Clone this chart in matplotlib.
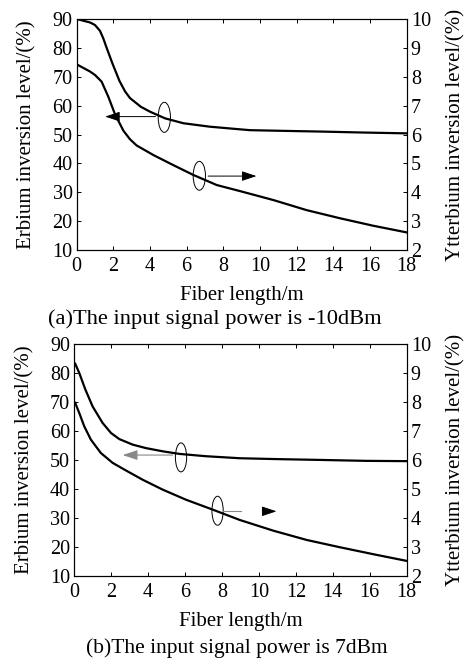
import matplotlib
matplotlib.use('Agg')
import matplotlib.pyplot as plt
import matplotlib.patches as patches

plt.rcParams['font.family'] = ['Liberation Serif', 'DejaVu Serif']

# (a) input signal power -10 dBm
len_a = [0, 0.73, 1.0, 1.27, 1.45, 1.6, 1.95, 2.33, 2.64, 2.91, 3.5, 4.0, 4.82, 5.82, 7.27, 8.9, 9.45, 11.0, 13.45, 15.5, 18]
er_a = [90, 88.8, 87.9, 85.9, 83.3, 80.6, 74.6, 68.6, 64.9, 62.6, 59.6, 57.9, 55.6, 53.9, 52.7, 51.8, 51.5, 51.3, 51.0, 50.7, 50.4]
len_a_yb = [0, 0.73, 1.0, 1.36, 1.73, 2.09, 2.55, 2.9, 3.27, 4.18, 5.27, 6.36, 7.64, 8.91, 10.73, 12.55, 14.36, 16.18, 18]
yb_a = [8.43, 8.18, 8.06, 7.83, 7.30, 6.70, 6.13, 5.84, 5.62, 5.29, 4.94, 4.60, 4.25, 4.04, 3.73, 3.38, 3.10, 2.84, 2.61]

# (b) input signal power 7 dBm
len_b = [0.05, 0.27, 0.6, 0.99, 1.53, 1.99, 2.44, 3.16, 3.88, 4.78, 5.69, 7.13, 8.97, 11.0, 13.48, 15.8, 18]
er_b = [83.2, 80.0, 74.3, 68.5, 62.8, 59.3, 57.2, 55.3, 54.1, 53.0, 52.1, 51.3, 50.6, 50.3, 50.0, 49.7, 49.6]
len_b_yb = [0.05, 0.27, 0.54, 0.9, 1.44, 2.08, 2.71, 3.7, 4.78, 6.05, 7.49, 8.97, 10.79, 12.6, 14.39, 16.2, 18]
yb_b = [7.97, 7.62, 7.16, 6.70, 6.24, 5.90, 5.67, 5.32, 4.98, 4.63, 4.29, 3.93, 3.56, 3.24, 2.99, 2.75, 2.52]

x_ticks = list(range(0, 19, 2))
er_ticks = list(range(10, 91, 10))
yb_ticks = list(range(2, 11))

captions = ['(a)The input signal power is -10dBm', '(b)The input signal power is 7dBm']

TICK_FS = 14.5
LABEL_FS = 15

fig = plt.figure(figsize=(4.66, 6.6), dpi=100)
ax_a = fig.add_axes([0.1646, 0.6212, 0.708, 0.350])
ax_b = fig.add_axes([0.1594, 0.1273, 0.7133, 0.3515])


def setup(ax, caption, cap_x, cap_y, cap_fs):
    ax.set_xlim(0, 18)
    ax.set_ylim(10, 90)
    ax.set_xticks(x_ticks)
    ax.set_yticks(er_ticks)
    ax.tick_params(direction='in', length=3, width=0.7, labelsize=TICK_FS,
                   top=True, pad=3)
    ax.tick_params(axis='x', pad=5)
    ax.set_xlabel('Fiber length/m', fontsize=LABEL_FS, labelpad=7.5)
    ax.set_ylabel('Erbium inversion level/(%)', fontsize=LABEL_FS, labelpad=11.5)
    for s in ax.spines.values():
        s.set_linewidth(0.8)
    ax.text(cap_x, cap_y, caption, transform=ax.transAxes, ha='center',
            va='center', fontsize=cap_fs)
    ax2 = ax.twinx()
    ax2.set_ylim(2, 10)
    ax2.set_yticks(yb_ticks)
    ax2.tick_params(direction='in', length=3, width=0.7, labelsize=TICK_FS, pad=3)
    ax2.set_ylabel('Ytterbium inversion level/(%)', fontsize=LABEL_FS,
                   rotation=90, labelpad=11)
    return ax2


ax_a2 = setup(ax_a, captions[0], 0.419, -0.299, 16.2)
ax_b2 = setup(ax_b, captions[1], 0.489, -0.31, 15.5)

ax_a.plot(len_a, er_a, color='black', lw=1.6)
ax_a2.plot(len_a_yb, yb_a, color='black', lw=1.6)
ax_b.plot(len_b, er_b, color='black', lw=1.6)
ax_b2.plot(len_b_yb, yb_b, color='black', lw=1.6)

arrow_style = '-|>,head_length=0.9,head_width=0.3'

# (a) annotations
ax_a.add_patch(patches.Ellipse((4.78, 55.95), 0.67, 10.4, fill=False, lw=0.7, color='black'))
ax_a.annotate('', xy=(1.40, 56.2), xytext=(4.45, 56.2),
              arrowprops=dict(arrowstyle=arrow_style, color='black', lw=0.7))
ax_a.add_patch(patches.Ellipse((6.69, 35.7), 0.67, 10.0, fill=False, lw=0.7, color='black'))
ax_a.annotate('', xy=(9.96, 35.6), xytext=(7.02, 35.6),
              arrowprops=dict(arrowstyle=arrow_style, color='black', lw=0.7))

# (b) annotations
ax_b.add_patch(patches.Ellipse((5.78, 50.9), 0.61, 10.0, fill=False, lw=0.7, color='black'))
ax_b.annotate('', xy=(2.47, 51.7), xytext=(5.48, 51.7),
              arrowprops=dict(arrowstyle=arrow_style, color='#888888', lw=0.8))
ax_b.add_patch(patches.Ellipse((7.76, 32.5), 0.61, 10.0, fill=False, lw=0.7, color='black'))
ax_b.plot([8.07, 9.03], [32.3, 32.3], color='#888888', lw=0.8)
ax_b.annotate('', xy=(11.1, 32.3), xytext=(10.1, 32.3),
              arrowprops=dict(arrowstyle=arrow_style, color='black', lw=0.7))

fig.savefig('out.png', dpi=100)
